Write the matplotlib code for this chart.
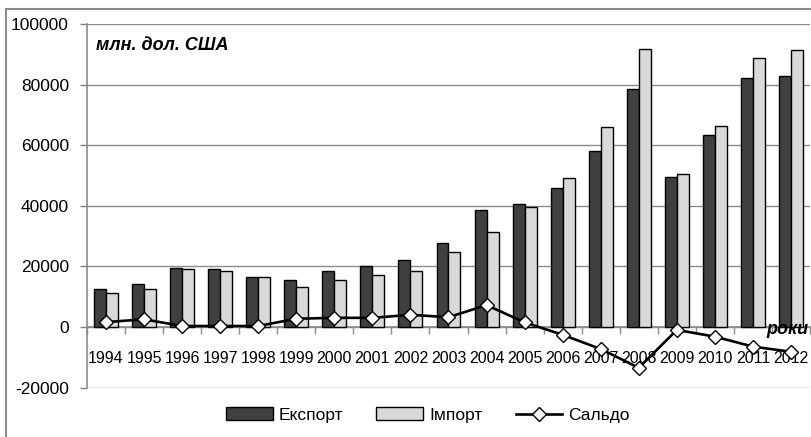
import matplotlib
matplotlib.use("Agg")
import matplotlib.pyplot as plt
import numpy as np
from matplotlib.patches import Rectangle
from matplotlib.ticker import FixedLocator, NullFormatter

plt.rcParams['font.family'] = ['Liberation Sans', 'DejaVu Sans']

years = ['1994', '1995', '1996', '1997', '1998', '1999', '2000', '2001', '2002',
         '2003', '2004', '2005', '2006', '2007', '2008', '2009', '2010', '2011', '2012']
export = [12500, 14300, 19500, 19000, 16400, 15500, 18500, 20000, 22000,
          27700, 38500, 40500, 46000, 58200, 78600, 49500, 63400, 82300, 82700]
imports = [11300, 12500, 19000, 18500, 16400, 13300, 15500, 17000, 18500,
           24700, 31200, 39600, 49100, 65900, 91800, 50600, 66300, 88900, 91400]
saldo = [1600, 2500, 300, 300, 300, 2700, 3000, 3000, 4000,
         3200, 7200, 1500, -2600, -7300, -13500, -1000, -3200, -6500, -8200]
y_ticks = [-20000, 0, 20000, 40000, 60000, 80000, 100000]

W, H = 811, 437
fig = plt.figure(figsize=(W / 100, H / 100), dpi=100)
ax = fig.add_axes([87 / W, 1 - 387.5 / H, (810 - 87) / W, (387.5 - 24) / H])

x = np.arange(len(years))
bw = 0.315
b1 = ax.bar(x - bw / 2, export, width=bw, color='#404040', edgecolor='black', linewidth=1.0,
            label='Експорт', zorder=3)
b2 = ax.bar(x + bw / 2, imports, width=bw, color='#d9d9d9', edgecolor='black', linewidth=1.0,
            label='Імпорт', zorder=3)
l1, = ax.plot(x, saldo, color='black', linewidth=1.9, marker='D', markersize=6.8,
              markerfacecolor='white', markeredgecolor='black', markeredgewidth=1.0,
              label='Сальдо', zorder=5)

ax.set_xlim(-0.5, len(years) - 0.5)
ax.set_ylim(-20000, 100000)
ax.set_yticks(y_ticks)
ax.set_yticklabels([str(v) for v in y_ticks], fontsize=12.5)
ax.tick_params(axis='y', length=5, width=1, color='#808080', pad=8)
ax.yaxis.grid(True, color='#8c8c8c', linewidth=1.0, zorder=0)
ax.set_axisbelow(True)

for s in ['top', 'right']:
    ax.spines[s].set_visible(False)
ax.spines['left'].set_color('#8c8c8c')
ax.spines['left'].set_linewidth(1.2)
ax.spines['bottom'].set_position(('data', 0))
ax.spines['bottom'].set_color('#8c8c8c')
ax.spines['bottom'].set_linewidth(1.2)

# major ticks at category boundaries, labels at centers (minor)
ax.xaxis.set_major_locator(FixedLocator(np.arange(-0.5, len(years), 1.0)))
ax.xaxis.set_major_formatter(NullFormatter())
ax.xaxis.set_minor_locator(FixedLocator(x))
ax.set_xticklabels(years, minor=True, fontsize=11.5)
ax.tick_params(axis='x', which='major', length=5, width=1, color='#8c8c8c', direction='out')
ax.tick_params(axis='x', which='minor', length=0, pad=17)

ax.text(96 / W, 1 - 45.5 / H, 'млн. дол. США', transform=fig.transFigure,
        fontsize=13, fontweight='bold', fontstyle='italic', ha='left', va='center')
ax.text(809 / W, 1 - 330 / H, 'роки', transform=fig.transFigure,
        fontsize=13, fontweight='bold', fontstyle='italic', ha='right', va='center', zorder=6)

fig.legend([b1, b2, l1], ['Експорт', 'Імпорт', 'Сальдо'],
           loc='center', bbox_to_anchor=(428 / W, 1 - 415 / H), ncol=3, frameon=False,
           fontsize=12.5, handlelength=2.7, handletextpad=0.35, columnspacing=1.9)

# outer chart border (partially cropped)
fig.patches.append(Rectangle((6 / W, -0.05), 1.1, 1 - 9 / H + 0.05, transform=fig.transFigure,
                             fill=False, edgecolor='#8c8c8c', linewidth=1.5))

fig.savefig('out.png', dpi=100)
